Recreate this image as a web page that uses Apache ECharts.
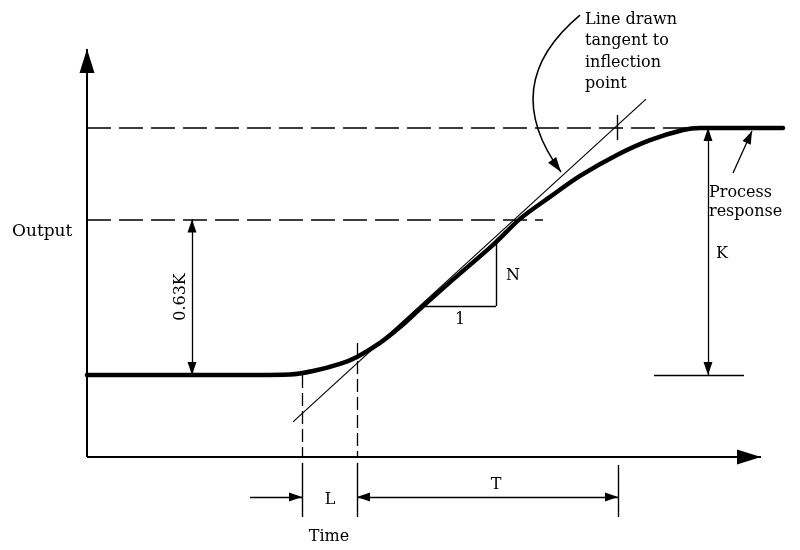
<!DOCTYPE html>
<html>
<head>
<meta charset="utf-8">
<script src="https://cdn.jsdelivr.net/npm/echarts@6/dist/echarts.min.js"></script>
<style>
  html, body { margin: 0; padding: 0; background: #fff; }
  #chart { width: 800px; height: 550px; }
</style>
</head>
<body>
<div id="chart"></div>
<script>
// Process reaction curve: output (in units of K) against time
const timeValues   = [0, 16.3, 20.3, 22.6, 25.3, 27.0, 29.3, 31.3, 33.6, 36.3, 40.8, 43.3, 46.3, 49.3, 53.0, 56.3, 59.6, 61.3, 69.6];
const outputValues = [0, 0, 0.002, 0.016, 0.045, 0.073, 0.130, 0.194, 0.279, 0.376, 0.534, 0.632, 0.721, 0.806, 0.891, 0.951, 0.992, 1.0, 1.0];

// tangent drawn through the inflection point
const tangentTime   = [20.6, 55.9];
const tangentOutput = [-0.190, 1.117];

// characteristic values
const gainK = 1;
const fraction = 0.63;
const deadTimeStart = 21.5;   // start of L
const inflectionTime = 27.0;  // end of L, start of T
const timeConstantEnd = 53.1; // end of T
const slopeRun = [33.6, 40.9];
const slopeRise = [0.279, 0.534];

// axis extents
const axisTimeEnd = 67.4;
const axisOutputEnd = 1.32;
const axisOutputBase = -0.332;

const black = '#000';
const seg = (a, b) => ({ coords: [a, b] });

// Arrowhead whose tip lies at the centre of its symbol box, so the tip
// lands exactly on the end point of the line (the upper half is empty).
const ARROW = 'path://M5,0M5,12L10,24L0,24Z';
const arrowSize = (w, len) => [w, len * 2];
// lines series take one size per end: [from, to]
const bothEnds = (w, len) => [arrowSize(w, len), arrowSize(w, len)];

function linesSeries(data, opts) {
  return Object.assign({
    type: 'lines',
    coordinateSystem: 'cartesian2d',
    polyline: false,
    silent: true,
    clip: false,
    symbol: ['none', 'none'],
    lineStyle: { color: black, width: 1.3, opacity: 1, curveness: 0 },
    data: data,
    z: 5
  }, opts);
}

const chart = echarts.init(document.getElementById('chart'), null, { renderer: 'canvas' });

const option = {
  backgroundColor: '#fff',
  animation: false,
  grid: { left: 0, right: 0, top: 0, bottom: 0 },
  xAxis: { type: 'value', min: -8.7, max: 71.3, show: false },
  yAxis: { type: 'value', min: -175 / 247, max: 375 / 247, show: false },
  series: [
    // axes with arrowheads
    linesSeries([
      seg([0, axisOutputBase], [0, axisOutputEnd]),
      seg([0, axisOutputBase], [axisTimeEnd, axisOutputBase])
    ], {
      symbol: ['none', ARROW], symbolSize: bothEnds(15, 24),
      lineStyle: { color: black, width: 2, opacity: 1 }
    }),
    // dashed reference levels
    linesSeries([
      seg([0, gainK], [60.3, gainK]),
      seg([0, fraction * gainK], [45.6, fraction * gainK])
    ], { lineStyle: { color: black, width: 1.6, opacity: 1, type: [24, 8] } }),
    // dashed verticals marking L
    linesSeries([
      seg([deadTimeStart, 0], [deadTimeStart, axisOutputBase]),
      seg([inflectionTime, 0.13], [inflectionTime, axisOutputBase])
    ], { lineStyle: { color: black, width: 1.3, opacity: 1, type: [13, 5] } }),
    // solid extension lines below the time axis, slope triangle and base mark
    linesSeries([
      seg([deadTimeStart, -0.356], [deadTimeStart, -0.575]),
      seg([inflectionTime, -0.356], [inflectionTime, -0.575]),
      seg([timeConstantEnd, -0.364], [timeConstantEnd, -0.575]),
      seg([slopeRun[0], slopeRise[0]], [slopeRun[1], slopeRise[0]]),
      seg([slopeRun[1], slopeRise[0]], [slopeRun[1], slopeRise[1]]),
      seg([56.7, 0], [65.7, 0]),
      seg([53.0, 1.053], [53.0, 0.951])
    ], { lineStyle: { color: black, width: 1.4, opacity: 1 } }),
    // double-headed dimension arrows: 0.63K, K, T
    linesSeries([
      seg([10.5, 0], [10.5, fraction * gainK]),
      seg([62.1, 0], [62.1, gainK]),
      seg([inflectionTime, -0.494], [timeConstantEnd, -0.494])
    ], {
      symbol: [ARROW, ARROW], symbolSize: bothEnds(9, 13),
      lineStyle: { color: black, width: 1.3, opacity: 1 }
    }),
    // single-headed arrows: L and the process response pointer
    linesSeries([
      seg([16.3, -0.494], [deadTimeStart, -0.494]),
      seg([64.6, 0.818], [66.5, 0.988])
    ], {
      symbol: ['none', ARROW], symbolSize: bothEnds(9, 13),
      lineStyle: { color: black, width: 1.3, opacity: 1 }
    }),
    // curved pointer from the tangent note
    linesSeries([
      seg([49.3, 1.457], [47.4, 0.822])
    ], {
      symbol: ['none', ARROW], symbolSize: bothEnds(10, 15),
      lineStyle: { color: black, width: 1.5, opacity: 1, curveness: -0.47 }
    }),
    // tangent line
    {
      type: 'line',
      data: tangentTime.map((t, i) => [t, tangentOutput[i]]),
      showSymbol: false,
      symbol: 'none',
      clip: false,
      silent: true,
      lineStyle: { color: black, width: 1.2 },
      z: 6
    },
    // process response
    {
      type: 'line',
      data: timeValues.map((t, i) => [t, outputValues[i]]),
      showSymbol: false,
      symbol: 'none',
      smooth: 0.3,
      clip: false,
      silent: true,
      lineStyle: { color: black, width: 4.5, cap: 'round', join: 'round' },
      z: 7
    }
  ],
  graphic: (function () {
    const font = { fontFamily: 'DejaVu Serif', fontSize: 16, fill: black };
    const t = (text, x, y, extra) => ({
      type: 'text', x: x, y: y, silent: true, z: 10,
      style: Object.assign({ text: text, textAlign: 'center', textVerticalAlign: 'middle' }, font, extra || {})
    });
    return [
      t('Output', 12, 232, { textAlign: 'left', fontSize: 17 }),
      Object.assign(t('0.63K', 181, 297), { rotation: Math.PI / 2 }),
      t('N', 513, 276),
      t('1', 460, 320),
      t('K', 722, 254),
      t('Process\nresponse', 709, 202, { textAlign: 'left', lineHeight: 19 }),
      t('Line drawn\ntangent to\ninflection\npoint', 585, 52, { textAlign: 'left', lineHeight: 21.5 }),
      t('L', 330, 500),
      t('T', 496, 485),
      t('Time', 329, 537)
    ];
  })()
};

chart.setOption(option);
</script>
</body>
</html>
